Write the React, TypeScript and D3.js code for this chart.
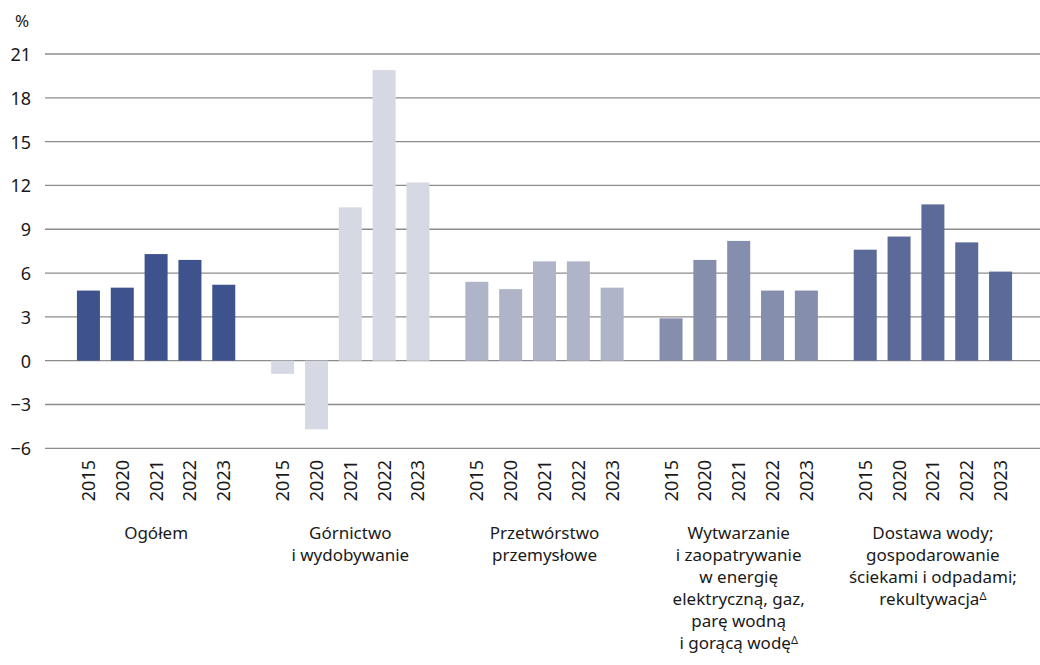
import { useEffect, useRef } from 'react'
import * as d3 from 'd3'

const groupLabels = [
  ['Ogółem'],
  ['Górnictwo', 'i wydobywanie'],
  ['Przetwórstwo', 'przemysłowe'],
  ['Wytwarzanie', 'i zaopatrywanie', 'w energię', 'elektryczną, gaz,', 'parę wodną', 'i gorącą wodę^'],
  ['Dostawa wody;', 'gospodarowanie', 'ściekami i odpadami;', 'rekultywacja^'],
]
const years = ['2015', '2020', '2021', '2022', '2023']
const ogolem = [4.8, 5.0, 7.3, 6.9, 5.2]
const gornictwo = [-0.9, -4.7, 10.5, 19.9, 12.2]
const przetworstwo = [5.4, 4.9, 6.8, 6.8, 5.0]
const energia = [2.9, 6.9, 8.2, 4.8, 4.8]
const woda = [7.6, 8.5, 10.7, 8.1, 6.1]
const groupColors = ['#3e528d', '#d6d9e3', '#afb4c9', '#858eac', '#5b6a98']
const yTicks = [-6, -3, 0, 3, 6, 9, 12, 15, 18, 21]

export default function App() {
  const ref = useRef<SVGSVGElement>(null)

  useEffect(() => {
    if (!ref.current) return
    const svg = d3.select(ref.current)
    svg.selectAll('*').remove()

    const width = 1040
    const height = 665
    svg.attr('width', width).attr('height', height)

    const font = "'Noto Sans', 'Open Sans', sans-serif"
    const series = [ogolem, gornictwo, przetworstwo, energia, woda]

    const y = d3.scaleLinear().domain([-6, 21]).range([448.3, 54])
    const x0 = d3.scaleBand<number>().domain(d3.range(5)).range([59, 1030])
    const x1 = d3.scaleBand<string>().domain(years).range([0, x0.bandwidth()])
      .paddingInner(0.32).paddingOuter(0.53)

    // gridlines
    svg.append('g').selectAll('line').data(yTicks).join('line')
      .attr('x1', 45).attr('x2', width)
      .attr('y1', d => y(d)).attr('y2', d => y(d))
      .attr('stroke', '#8c8c8c').attr('stroke-width', 1.3)

    // y labels
    svg.append('g').selectAll('text').data(yTicks).join('text')
      .attr('x', 31).attr('y', d => y(d))
      .attr('text-anchor', 'end').attr('dominant-baseline', 'central')
      .style('font-family', font).style('font-size', '18px').style('fill', '#1a1a1a')
      .text(d => (d < 0 ? '\u2212' + Math.abs(d) : String(d)))

    svg.append('text')
      .attr('x', 22).attr('y', 20)
      .attr('text-anchor', 'middle').attr('dominant-baseline', 'central')
      .style('font-family', font).style('font-size', '17px').style('fill', '#1a1a1a')
      .text('%')

    // bars
    series.forEach((vals, gi) => {
      const g = svg.append('g').attr('transform', `translate(${x0(gi)},0)`)
      g.selectAll('rect').data(vals).join('rect')
        .attr('x', (_, i) => x1(years[i])!)
        .attr('width', x1.bandwidth())
        .attr('y', d => y(Math.max(0, d)))
        .attr('height', d => Math.abs(y(d) - y(0)))
        .attr('fill', groupColors[gi])

      g.selectAll('text.yr').data(years).join('text')
        .attr('class', 'yr')
        .attr('transform', d => `translate(${x1(d)! + x1.bandwidth() / 2 + 6.5},460) rotate(-90)`)
        .attr('text-anchor', 'end')
        .style('font-family', font).style('font-size', '18px').style('fill', '#1a1a1a')
        .text(d => d)

      // category label
      const cx = x0.bandwidth() / 2
      groupLabels[gi].forEach((line, li) => {
        const t = g.append('text')
          .attr('x', cx).attr('y', 539 + li * 22)
          .attr('text-anchor', 'middle')
          .style('font-family', font).style('font-size', '17px').style('fill', '#1a1a1a')
        if (line.endsWith('^')) {
          t.append('tspan').text(line.slice(0, -1))
          t.append('tspan').attr('dy', -5).style('font-size', '11px').text('\u0394')
        } else {
          t.text(line)
        }
      })
    })
  }, [])

  return (
    <div style={{ position: 'absolute', left: 0, top: 0 }}>
      <svg ref={ref}></svg>
    </div>
  )
}
